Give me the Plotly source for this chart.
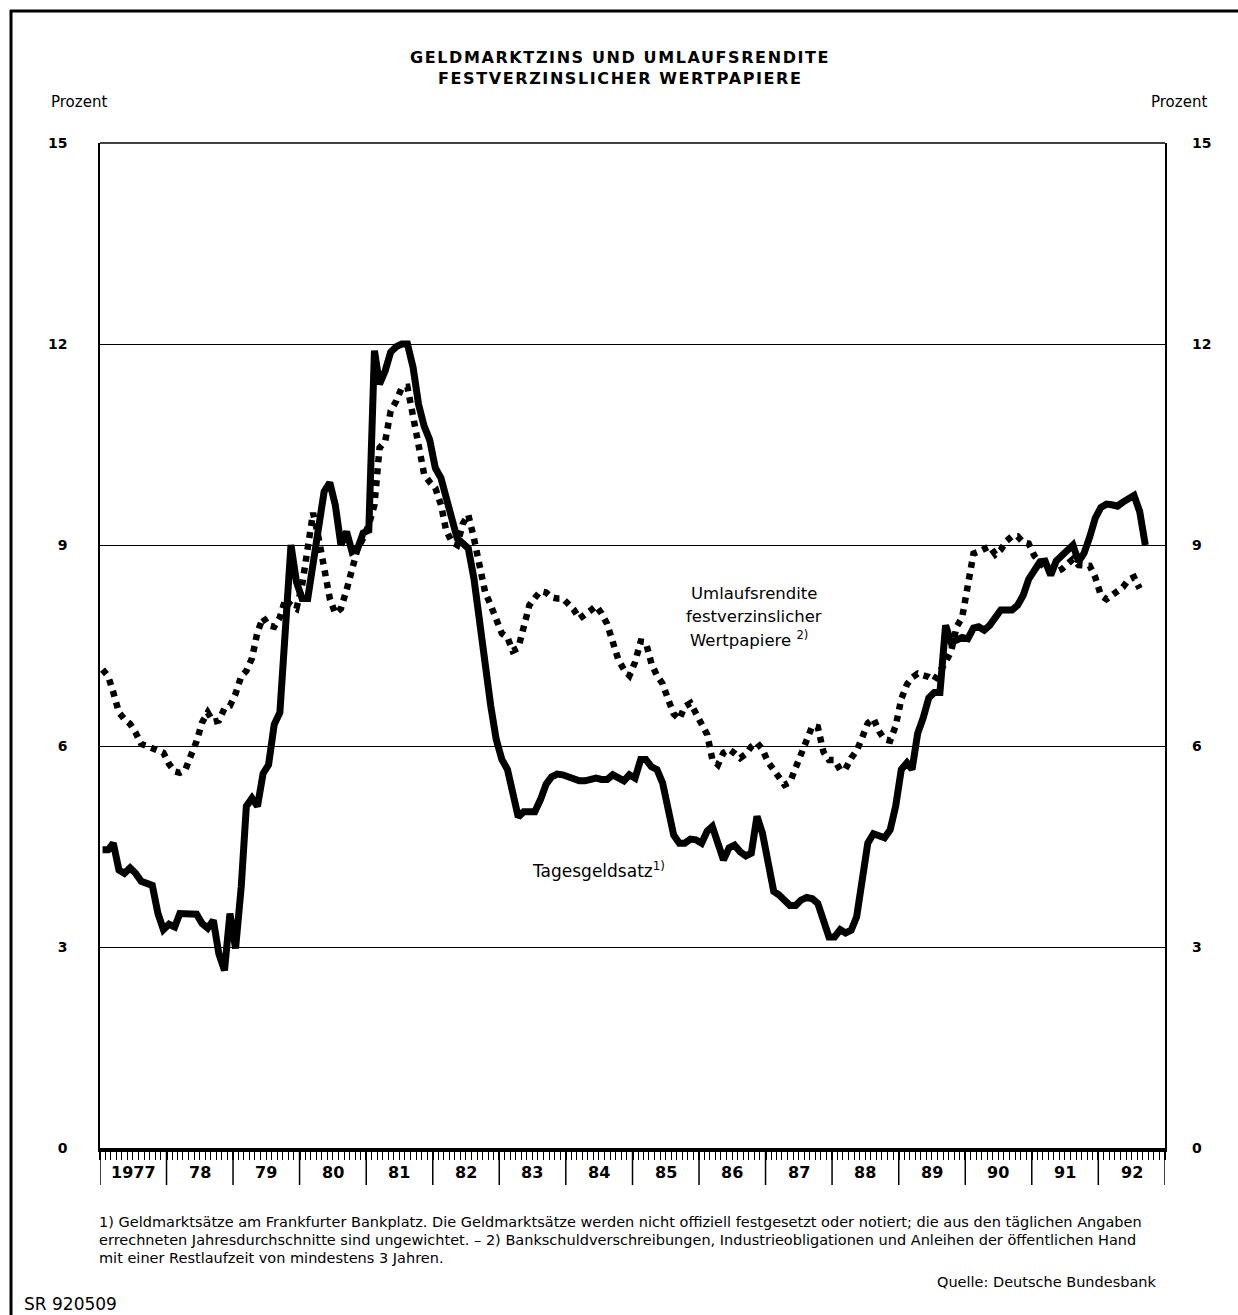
import pandas as pd
import plotly.graph_objects as go

# monthly values, Jan 1977 onwards
umlaufsrendite = [
    7.14, 7.04, 6.80, 6.50, 6.40, 6.33, 6.20, 6.03, 6.00, 5.97, 5.95, 5.90,  # 1977
    5.73, 5.62, 5.60, 5.65, 5.86, 6.07, 6.35, 6.50, 6.36, 6.38, 6.56, 6.60,  # 1978
    6.78, 7.04, 7.12, 7.31, 7.70, 7.92, 7.80, 7.78, 7.92, 8.19, 8.10, 8.05,  # 1979
    8.40, 8.90, 9.48, 9.10, 8.68, 8.20, 7.98, 8.05, 8.33, 8.65, 8.95, 9.10,  # 1980
    9.30, 9.60, 10.45, 10.55, 11.00, 11.15, 11.35, 11.36, 10.92, 10.38, 10.05, 9.94,  # 1981
    9.85, 9.60, 9.22, 9.05, 9.00, 9.32, 9.45, 9.10, 8.70, 8.30, 8.10, 7.92,  # 1982
    7.68, 7.62, 7.42, 7.46, 7.78, 8.10, 8.21, 8.31, 8.29, 8.22, 8.20, 8.20,  # 1983
    8.12, 8.03, 7.90, 7.95, 8.02, 8.09, 7.98, 7.82, 7.55, 7.29, 7.14, 7.05,  # 1984
    7.25, 7.56, 7.55, 7.23, 7.05, 6.93, 6.70, 6.48, 6.40, 6.59, 6.64, 6.48,  # 1985
    6.33, 6.17, 5.80, 5.72, 5.90, 5.95, 5.89, 5.82, 5.88, 5.99, 6.05, 5.95,  # 1986
    5.76, 5.64, 5.52, 5.42, 5.46, 5.67, 5.85, 6.06, 6.30, 6.28, 5.91, 5.79,  # 1987
    5.79, 5.64, 5.66, 5.82, 5.93, 6.13, 6.34, 6.41, 6.22, 6.10, 6.08, 6.30,  # 1988
    6.70, 6.92, 7.02, 7.08, 7.06, 7.03, 6.98, 7.10, 7.25, 7.41, 7.78, 7.92,  # 1989
    8.45, 8.87, 8.90, 8.93, 8.98, 8.86, 8.93, 9.06, 9.13, 9.13, 9.04, 9.02,  # 1990
    8.84, 8.74, 8.65, 8.59, 8.60, 8.64, 8.72, 8.79, 8.70, 8.70, 8.69, 8.52,  # 1991
    8.25, 8.19, 8.25, 8.32, 8.37, 8.48, 8.52, 8.35,                          # 1992
]

tagesgeldsatz = [
    4.45, 4.45, 4.55, 4.15, 4.10, 4.18, 4.10, 3.98, 3.95, 3.92, 3.50, 3.26,  # 1977
    3.34, 3.30, 3.50, 3.50, 3.50, 3.49, 3.35, 3.28, 3.40, 2.90, 2.65, 3.50,  # 1978
    2.98, 3.90, 5.10, 5.22, 5.10, 5.59, 5.72, 6.32, 6.50, 7.85, 9.00, 8.45,  # 1979
    8.20, 8.20, 8.70, 9.35, 9.80, 9.93, 9.60, 9.00, 9.20, 8.90, 8.95, 9.18,  # 1980
    9.22, 11.90, 11.40, 11.60, 11.88, 11.96, 12.00, 12.00, 11.65, 11.10, 10.77, 10.57,  # 1981
    10.15, 10.00, 9.75, 9.40, 9.10, 9.03, 8.95, 8.50, 7.83, 7.20, 6.60, 6.10,  # 1982
    5.80, 5.65, 5.35, 4.94, 5.02, 5.02, 5.02, 5.20, 5.43, 5.54, 5.58, 5.57,  # 1983
    5.53, 5.50, 5.48, 5.48, 5.50, 5.52, 5.50, 5.50, 5.57, 5.53, 5.48, 5.57,  # 1984
    5.52, 5.80, 5.80, 5.69, 5.65, 5.45, 5.06, 4.67, 4.55, 4.55, 4.61, 4.60,  # 1985
    4.55, 4.73, 4.80, 4.55, 4.30, 4.48, 4.52, 4.42, 4.36, 4.40, 4.95, 4.70,  # 1986
    4.20, 3.83, 3.78, 3.70, 3.62, 3.62, 3.70, 3.74, 3.72, 3.65, 3.35, 3.15,  # 1987
    3.15, 3.26, 3.21, 3.25, 3.45, 4.00, 4.55, 4.69, 4.67, 4.63, 4.75, 5.10,  # 1988
    5.65, 5.75, 5.65, 6.19, 6.42, 6.72, 6.80, 6.80, 7.80, 7.55, 7.58, 7.62,  # 1989
    7.60, 7.76, 7.78, 7.73, 7.80, 7.92, 8.03, 8.03, 8.03, 8.10, 8.25, 8.49,  # 1990
    8.63, 8.75, 8.76, 8.55, 8.76, 8.83, 8.90, 9.00, 8.75, 8.88, 9.12, 9.40,  # 1991
    9.56, 9.61, 9.60, 9.58, 9.64, 9.69, 9.74, 9.50, 9.00,                    # 1992
]

years = list(range(1977, 1993))
year_labels = ["1977"] + [str(y)[2:] for y in years[1:]]
y_ticks = [0, 3, 6, 9, 12, 15]


# mid-month dates
def months(n):
    return pd.date_range("1977-01-01", periods=n, freq="MS") + pd.Timedelta(days=14)


# plot area in page pixels
W, H = 1238, 1315
L, R, T, B = 100, 1165, 143, 1148


def px_x(p):
    return (p - L) / (R - L)


def px_y(p):
    return (B - p) / (B - T)


FONT = "DejaVu Sans, Verdana, sans-serif"

fig = go.Figure()

fig.add_trace(go.Scatter(
    x=months(len(umlaufsrendite)), y=umlaufsrendite, mode="lines",
    line=dict(color="black", width=6.5, dash="6px,6px"),
    hoverinfo="x+y", name="Umlaufsrendite",
))
fig.add_trace(go.Scatter(
    x=months(len(tagesgeldsatz)), y=tagesgeldsatz, mode="lines",
    line=dict(color="black", width=7),
    hoverinfo="x+y", name="Tagesgeldsatz",
))

shapes = []
# top edge of the plot box
shapes.append(dict(type="line", xref="paper", yref="paper", x0=0, x1=1, y0=1, y1=1,
                   line=dict(color="black", width=1.5)))
# year separators below the axis
for y in years + [1993]:
    shapes.append(dict(type="line", xref="x", yref="paper",
                       x0=f"{y}-01-01", x1=f"{y}-01-01", y0=0, y1=px_y(1185),
                       line=dict(color="black", width=1.5)))
# page frame (top and left)
shapes.append(dict(type="line", xref="paper", yref="paper",
                   x0=px_x(10), x1=px_x(W), y0=px_y(11), y1=px_y(11),
                   line=dict(color="black", width=3)))
shapes.append(dict(type="line", xref="paper", yref="paper",
                   x0=px_x(11), x1=px_x(11), y0=px_y(10), y1=px_y(H),
                   line=dict(color="black", width=3)))

ann = []
for y, lab in zip(years, year_labels):
    ann.append(dict(x=f"{y}-07-02", y=px_y(1172), xref="x", yref="paper", text=lab,
                    showarrow=False, xanchor="center", yanchor="middle",
                    font=dict(family=FONT, size=16, color="black", weight="bold")))

# right-hand tick labels
for v in y_ticks:
    ann.append(dict(x=px_x(1190), y=v, xref="paper", yref="y", text=str(v),
                    showarrow=False, xanchor="left", yanchor="middle",
                    font=dict(family=FONT, size=14, color="black", weight="bold")))


def txt(text, x, y, size=13, anchor="center", bold=False):
    f = dict(family=FONT, size=size, color="black")
    if bold:
        f["weight"] = "bold"
    ann.append(dict(x=px_x(x), y=px_y(y), xref="paper", yref="paper", text=text,
                    showarrow=False, xanchor=anchor, yanchor="middle", font=f))


spaced = '<span style="letter-spacing:1.6px">{}</span>'
txt(spaced.format("GELDMARKTZINS UND UMLAUFSRENDITE"), 620, 57, size=16, bold=True)
txt(spaced.format("FESTVERZINSLICHER WERTPAPIERE"), 620, 79, size=16, bold=True)
txt("Prozent", 49, 102, size=15, anchor="left")
txt("Prozent", 1209, 102, size=15, anchor="right")

txt("Umlaufsrendite", 754, 593, size=16.5)
txt("festverzinslicher", 754, 616, size=16.5)
txt("Wertpapiere <sup>2)</sup>", 749, 639, size=16.5)
txt("Tagesgeldsatz<sup>1)</sup>", 598, 870, size=17)

txt("1) Geldmarktsätze am Frankfurter Bankplatz. Die Geldmarktsätze werden nicht offiziell "
    "festgesetzt oder notiert; die aus den täglichen Angaben", 97, 1222, size=14.5, anchor="left")
txt("errechneten Jahresdurchschnitte sind ungewichtet. – 2) Bankschuldverschreibungen, "
    "Industrieobligationen und Anleihen der öffentlichen Hand", 97, 1240, size=14.5, anchor="left")
txt("mit einer Restlaufzeit von mindestens 3 Jahren.", 97, 1258, size=14.5, anchor="left")
txt("Quelle: Deutsche Bundesbank", 1158, 1282, size=14.5, anchor="right")
txt("SR 920509", 22, 1304, size=17, anchor="left")

fig.update_layout(
    width=W, height=H,
    margin=dict(l=L, r=W - R, t=T, b=H - B),
    paper_bgcolor="white", plot_bgcolor="white",
    showlegend=False,
    xaxis=dict(
        type="date", range=["1977-01-01", "1993-01-01"],
        showline=True, linecolor="black", linewidth=4,
        showgrid=False, zeroline=False,
        tick0="1977-01-01", dtick="M12", ticks="outside", ticklen=8, tickwidth=1.5,
        tickcolor="black", showticklabels=False,
        minor=dict(dtick="M1", ticks="outside", ticklen=8, tickwidth=1, tickcolor="black",
                   showgrid=False),
    ),
    yaxis=dict(
        range=[0, 15], tickvals=y_ticks, ticks="outside", ticklen=28,
        tickcolor="rgba(0,0,0,0)",
        tickfont=dict(family=FONT, size=14, color="black", weight="bold"),
        zeroline=False, showgrid=True, gridcolor="black", gridwidth=1.3,
        showline=True, linecolor="black", linewidth=1.5, mirror=True,
    ),
    shapes=shapes,
    annotations=ann,
)

# the page body has a default margin; drop it so the chart sits at the window origin
fig.write_html("out.html", config={"displayModeBar": False},
               post_script="document.body.style.margin='0';")
